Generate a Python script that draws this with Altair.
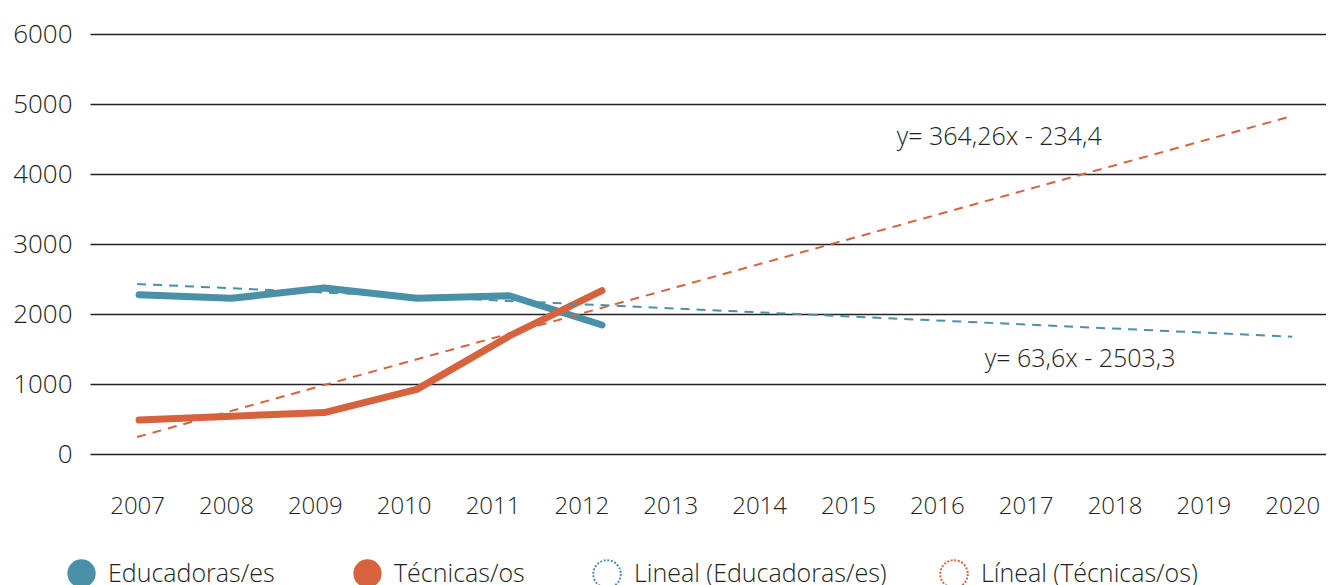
import altair as alt
import pandas as pd

# ---- data ----
years = [2007, 2008, 2009, 2010, 2011, 2012]
educadoras = [2276, 2224, 2371, 2224, 2261, 1843]
tecnicas = [485, 540, 592, 923, 1686, 2333]

trend_years = [2007, 2020]
trend_educadoras = [2429, 1676]
trend_tecnicas = [242, 4829]

axis_years = list(range(2007, 2021))
y_ticks = [0, 1000, 2000, 3000, 4000, 5000, 6000]

series_names = ["Educadoras/es", "Técnicas/os"]
trend_names = ["Lineal (Educadoras/es)", "Líneal (Técnicas/os)"]
colors = ["#4a90a8", "#d6633d"]

annot_text = ["y= 364,26x - 234,4", "y= 63,6x - 2503,3"]
annot_x = [2015.55, 2016.54]
annot_y = [4414, 1239]

FONT = "Open Sans"
TXT = "#231f20"
WEIGHT = 300

main_df = pd.DataFrame(
    {
        "serie": [series_names[0]] * len(years) + [series_names[1]] * len(years),
        "year": years + years,
        "value": educadoras + tecnicas,
    }
)
trend_df = pd.DataFrame(
    {
        "serie": [trend_names[0]] * 2 + [trend_names[1]] * 2,
        "year": trend_years + trend_years,
        "value": trend_educadoras + trend_tecnicas,
    }
)
annot_df = pd.DataFrame({"x": annot_x, "y": annot_y, "label": annot_text})

x_axis_dom = [2006.47, 2020.38]
x_line_dom = [2006.47, 2019.82]


def xs(dom):
    return alt.Scale(domain=dom, nice=False, zero=False)


y_scale = alt.Scale(domain=[0, 6000], nice=False)


def y_axis():
    return alt.Axis(
        values=y_ticks, format="d", grid=True, gridColor="#222222", gridWidth=1.3,
        domain=False, ticks=False, tickSize=0, labelFontSize=26, labelFont=FONT,
        labelFontWeight=WEIGHT, labelColor=TXT, labelPadding=18, title=None,
    )


x_axis = alt.Axis(
    values=axis_years, format="d", grid=False, domain=False, ticks=False,
    tickSize=0, labelFontSize=24, labelFont=FONT, labelFontWeight=WEIGHT,
    labelColor=TXT, labelPadding=40, title=None, labelFlush=False,
)

lines = alt.Chart(main_df).mark_line(
    strokeWidth=7, strokeCap="round", strokeJoin="round"
).encode(
    x=alt.X("year:Q", scale=xs(x_line_dom), axis=None),
    y=alt.Y("value:Q", scale=y_scale, axis=y_axis()),
    color=alt.Color("serie:N", scale=alt.Scale(domain=series_names, range=colors), legend=None),
)

trend = alt.Chart(trend_df).mark_line(strokeWidth=2, strokeDash=[9, 7]).encode(
    x=alt.X("year:Q", scale=xs(x_axis_dom), axis=x_axis),
    y=alt.Y("value:Q", scale=y_scale, axis=y_axis()),
    color=alt.Color("serie:N", scale=alt.Scale(domain=trend_names, range=colors), legend=None),
)

legend_x = [-23, 263, 502, 849]
legend_layers = []
for i, name in enumerate(series_names):
    legend_layers.append(
        alt.Chart(main_df[main_df["serie"] == name]).mark_point(filled=True, size=0).encode(
            x=alt.X("year:Q", scale=xs(x_line_dom), axis=None),
            y=alt.Y("value:Q", scale=y_scale, axis=y_axis()),
            color=alt.Color(
                "serie:N",
                scale=alt.Scale(domain=[name], range=[colors[i]]),
                legend=alt.Legend(
                    orient="none", legendX=legend_x[i], legendY=525, title=None,
                    symbolType="circle", symbolSize=800, symbolOpacity=1,
                    symbolStrokeWidth=0, labelFontSize=25, labelFont=FONT,
                    labelFontWeight=WEIGHT, labelColor=TXT, labelOffset=12,
                    padding=0, labelLimit=400,
                ),
            ),
        )
    )
for i, name in enumerate(trend_names):
    legend_layers.append(
        alt.Chart(trend_df[trend_df["serie"] == name]).mark_point(
            filled=False, size=0, strokeDash=[2, 1.6], strokeWidth=2
        ).encode(
            x=alt.X("year:Q", scale=xs(x_axis_dom), axis=None),
            y=alt.Y("value:Q", scale=y_scale, axis=y_axis()),
            color=alt.Color(
                "serie:N",
                scale=alt.Scale(domain=[name], range=[colors[i]]),
                legend=alt.Legend(
                    orient="none", legendX=legend_x[i + 2], legendY=525, title=None,
                    symbolType="circle", symbolSize=760, symbolOpacity=1,
                    symbolStrokeWidth=2, symbolDash=[2, 1.6], symbolFillColor="white",
                    labelFontSize=25, labelFont=FONT, labelFontWeight=WEIGHT,
                    labelColor=TXT, labelOffset=12, padding=0, labelLimit=400,
                ),
            ),
        )
    )

annot = alt.Chart(annot_df).mark_text(
    align="left", baseline="alphabetic", fontSize=25, font=FONT,
    fontWeight=WEIGHT, color=TXT,
).encode(
    x=alt.X("x:Q", scale=xs(x_axis_dom), axis=None),
    y=alt.Y("y:Q", scale=y_scale, axis=y_axis()),
    text="label:N",
)

chart = (
    alt.layer(lines, trend, *legend_layers, annot)
    .resolve_scale(x="independent", color="independent")
    .properties(
        width=1236,
        height=420,
        autosize=alt.AutoSizeParams(type="none"),
        padding={"left": 82, "top": 26, "right": 0, "bottom": 150},
        background="white",
    )
    .configure(font=FONT)
    .configure_view(stroke=None)
)

chart.save("out.html", embed_options={"renderer": "svg", "actions": False})
